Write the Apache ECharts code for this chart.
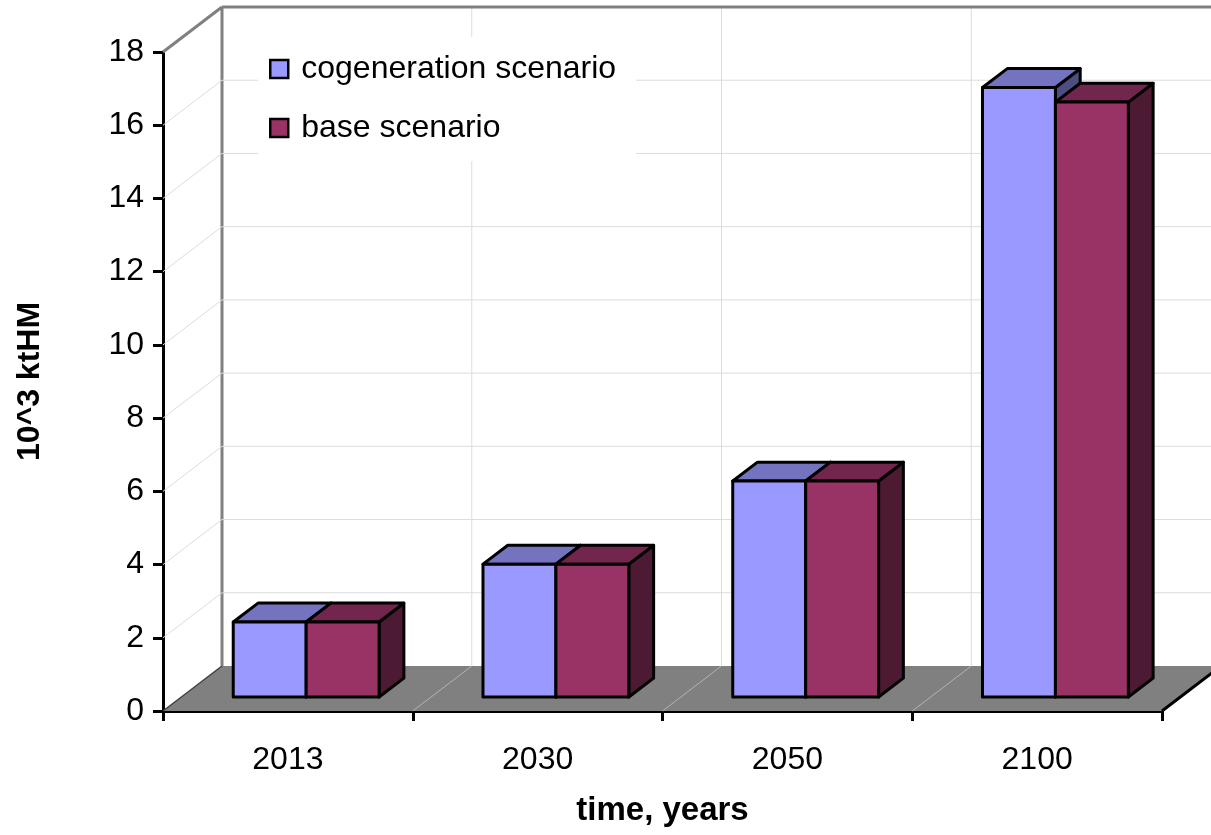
<!DOCTYPE html>
<html>
<head>
<meta charset="utf-8">
<script src="https://cdn.jsdelivr.net/npm/echarts@6/dist/echarts.min.js"></script>
<style>
  html, body { margin: 0; padding: 0; background: #fff; }
  #chart { width: 1211px; height: 835px; }
</style>
</head>
<body>
<div id="chart"></div>
<script>
// Heavy metal inventory by year, two scenarios (10^3 ktHM)
const categories = ['2013', '2030', '2050', '2100'];
const cogeneration = [2.05, 3.63, 5.9, 16.65];
const base = [2.05, 3.63, 5.9, 16.25];
const yTicks = [0, 2, 4, 6, 8, 10, 12, 14, 16, 18];
const seriesNames = ['cogeneration scenario', 'base scenario'];

// Pseudo-3D geometry: depth vector of the floor/walls, and where the bars sit inside that depth
const DEPTH = [59, -45];
const FRONT = 0.31, BACK = 0.73;
const BAR_FRAC = 0.292;
const FONT = '"Liberation Sans", Arial, sans-serif';
const palettes = [
  { front: '#9999FF', top: '#7373BF', side: '#4D4D80' },
  { front: '#993366', top: '#73264D', side: '#4D1A33' }
];

// Floor, back wall and side wall with their gridlines
function renderWalls(params, api) {
  const cs = params.coordSys;
  const v = api.value(1);
  const y = api.coord([0, v])[1];
  const L = cs.x, R = cs.x + cs.width;
  const dx = DEPTH[0], dy = DEPTH[1];
  const children = [];
  if (v === yTicks[0]) {
    const B = y;
    children.push({ type: 'polygon', shape: { points: [[L, B], [R, B], [R + dx, B + dy], [L + dx, B + dy]] },
      style: { fill: '#808080', stroke: null } });
    const band = cs.width / categories.length;
    for (let k = 1; k < categories.length; k++) {
      const x = L + k * band;
      children.push({ type: 'line', shape: { x1: x, y1: B, x2: x + dx, y2: B + dy },
        style: { stroke: '#b4b4b4', lineWidth: 1 } });
      children.push({ type: 'line', shape: { x1: x + dx, y1: B + dy, x2: x + dx, y2: cs.y + dy },
        style: { stroke: '#dcdcdc', lineWidth: 1 } });
    }
    children.push({ type: 'line', shape: { x1: L, y1: B, x2: L + dx, y2: B + dy },
      style: { stroke: '#404040', lineWidth: 1.5 } });
    children.push({ type: 'line', shape: { x1: R, y1: B, x2: R + dx, y2: B + dy },
      style: { stroke: '#000', lineWidth: 3 } });
    children.push({ type: 'line', shape: { x1: L + dx, y1: B + dy, x2: L + dx, y2: cs.y + dy },
      style: { stroke: '#808080', lineWidth: 3 } });
  } else {
    const isTop = v === yTicks[yTicks.length - 1];
    const st = isTop ? { stroke: '#808080', lineWidth: 3 } : { stroke: '#dcdcdc', lineWidth: 1 };
    children.push({ type: 'line', shape: { x1: L, y1: y, x2: L + dx, y2: y + dy }, style: st });
    children.push({ type: 'line', shape: { x1: L + dx, y1: y + dy, x2: R + dx + 60, y2: y + dy }, style: st });
  }
  return { type: 'group', children };
}

// One box per value: front face, top face and right side face
function renderBox(params, api) {
  const s = params.seriesIndex - 1;
  const pal = palettes[s];
  const i = api.value(0);
  const zero = api.coord([i, 0]);
  const topPt = api.coord([i, api.value(1)]);
  const band = api.size([1, 0])[0];
  const bw = band * BAR_FRAC;
  const fx = FRONT * DEPTH[0], fy = FRONT * DEPTH[1];
  const ddx = (BACK - FRONT) * DEPTH[0], ddy = (BACK - FRONT) * DEPTH[1];
  const x0 = zero[0] - bw + s * bw + fx;
  const x1 = x0 + bw;
  const yt = topPt[1] + fy;
  const yb = zero[1] + fy;
  const stroke = { stroke: '#000', lineWidth: 3, lineJoin: 'round' };
  return {
    type: 'group',
    children: [
      { type: 'polygon', shape: { points: [[x1, yt], [x1 + ddx, yt + ddy], [x1 + ddx, yb + ddy], [x1, yb]] },
        style: Object.assign({ fill: pal.side }, stroke) },
      { type: 'polygon', shape: { points: [[x0, yt], [x1, yt], [x1 + ddx, yt + ddy], [x0 + ddx, yt + ddy]] },
        style: Object.assign({ fill: pal.top }, stroke) },
      { type: 'rect', shape: { x: x0, y: yt, width: bw, height: yb - yt },
        style: Object.assign({ fill: pal.front }, stroke) }
    ]
  };
}

const chart = echarts.init(document.getElementById('chart'), null, { renderer: 'canvas' });

chart.setOption({
  backgroundColor: '#fff',
  animation: false,
  textStyle: { fontFamily: FONT, color: '#000' },
  grid: { left: 163, right: 49, top: 52, bottom: 124, containLabel: false },
  legend: {
    data: seriesNames,
    orient: 'vertical',
    left: 258,
    top: 37,
    padding: [16, 20, 17, 11],
    itemGap: 27,
    itemWidth: 18,
    itemHeight: 18,
    icon: 'rect',
    backgroundColor: '#fff',
    itemStyle: { borderColor: '#000', borderWidth: 2.5 },
    textStyle: { fontSize: 32, lineHeight: 30, color: '#000', fontFamily: FONT, padding: [0, 0, 0, 8] },
    selectedMode: false
  },
  xAxis: {
    type: 'category',
    data: categories,
    boundaryGap: true,
    name: 'time, years',
    nameLocation: 'middle',
    nameGap: 83,
    nameTextStyle: { fontSize: 33, fontWeight: 'bold', color: '#000', fontFamily: FONT },
    axisLine: { lineStyle: { color: '#000', width: 3 } },
    axisTick: { show: true, length: 10, lineStyle: { color: '#000', width: 3 } },
    axisLabel: { fontSize: 32, color: '#000', margin: 33, fontFamily: FONT },
    splitLine: { show: false }
  },
  yAxis: {
    type: 'value',
    min: 0,
    max: 18,
    interval: 2,
    name: '10^3 ktHM',
    nameLocation: 'middle',
    nameGap: 117,
    nameRotate: 90,
    nameTextStyle: { fontSize: 32, fontWeight: 'bold', color: '#000', fontFamily: FONT },
    axisLine: { show: true, lineStyle: { color: '#000', width: 3 } },
    axisTick: { show: true, length: 10, lineStyle: { color: '#000', width: 3 } },
    axisLabel: { fontSize: 32, color: '#000', margin: 19, fontFamily: FONT },
    splitLine: { show: false }
  },
  series: [
    {
      type: 'custom',
      name: 'walls',
      z: 1,
      clip: false,
      silent: true,
      renderItem: renderWalls,
      encode: { x: 0, y: 1 },
      data: yTicks.map(v => [0, v])
    },
    {
      type: 'custom',
      name: seriesNames[0],
      z: 2,
      clip: false,
      itemStyle: { color: palettes[0].front },
      renderItem: renderBox,
      encode: { x: 0, y: 1 },
      data: cogeneration.map((v, i) => [i, v])
    },
    {
      type: 'custom',
      name: seriesNames[1],
      z: 3,
      clip: false,
      itemStyle: { color: palettes[1].front },
      renderItem: renderBox,
      encode: { x: 0, y: 1 },
      data: base.map((v, i) => [i, v])
    }
  ]
});
</script>
</body>
</html>
